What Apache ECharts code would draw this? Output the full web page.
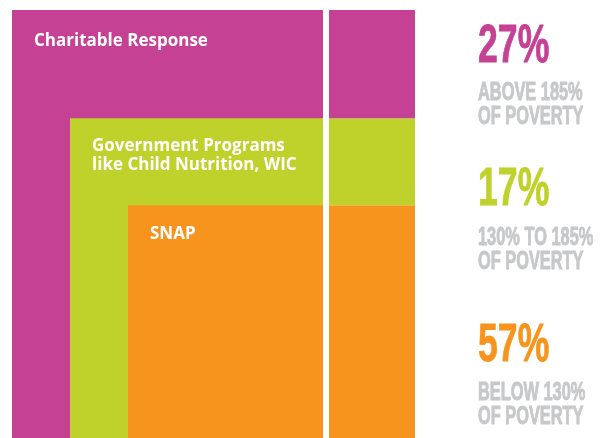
<!DOCTYPE html>
<html>
<head>
<meta charset="utf-8">
<script src="https://cdn.jsdelivr.net/npm/echarts@6/dist/echarts.min.js"></script>
<style>
  html, body { margin: 0; padding: 0; background: #fff; }
  #chart { width: 613px; height: 438px; }
</style>
</head>
<body>
<div id="chart"></div>
<script>
  // tiers, outer to inner
  var tiers = ['Charitable Response', 'Government Programs\nlike Child Nutrition, WIC', 'SNAP'];
  var tierColors = ['#c44194', '#bfd22c', '#f7941e'];
  // poverty groups, as printed on the right
  var pctLabels = ['27%', '17%', '57%'];
  var groupLabels = ['ABOVE 185%\nOF POVERTY', '130% TO 185%\nOF POVERTY', 'BELOW 130%\nOF POVERTY'];
  // band heights as drawn in the graphic (not to scale with the labels), top to bottom
  var drawnShare = [25.3, 20.3, 54.4];

  var myChart = echarts.init(document.getElementById('chart'));

  // top level of each nested block = sum of its band and the ones below
  var tierData = tiers.map(function (name, i) {
    var top = 0;
    for (var k = i; k < drawnShare.length; k++) top += drawnShare[k];
    return [i, top];
  });
  var labelDy = [22, 18, 19];

  var graphics = [];
  var pctTop = [20, 163, 319];
  var groupTop = [81, 226, 381];
  pctLabels.forEach(function (p, i) {
    graphics.push({
      type: 'text', x: 478, y: pctTop[i], scaleX: 0.66,
      style: { text: p, fill: tierColors[i], stroke: tierColors[i], lineWidth: 0.8,
        font: 'bold 54px "Liberation Sans"', verticalAlign: 'top' }
    });
    graphics.push({
      type: 'text', x: 478, y: groupTop[i], scaleX: 0.655,
      style: { text: groupLabels[i], fill: '#c7c8ca', stroke: '#c7c8ca', lineWidth: 0.9,
        font: 'bold 25px "Liberation Sans"', lineHeight: 24, verticalAlign: 'top' }
    });
  });

  var option = {
    animation: false,
    grid: [
      { left: 12, top: 10, width: 311, height: 428 },
      { left: 329, top: 10, width: 86, height: 428 }
    ],
    xAxis: [
      { type: 'value', gridIndex: 0, min: 0, max: 1, show: false },
      { type: 'category', gridIndex: 1, data: ['share'], show: false }
    ],
    yAxis: [
      { type: 'value', gridIndex: 0, min: 0, max: 100, show: false },
      { type: 'value', gridIndex: 1, min: 0, max: 100, show: false }
    ],
    graphic: graphics,
    series: [
      {
        type: 'custom',
        xAxisIndex: 0,
        yAxisIndex: 0,
        data: tierData,
        renderItem: function (params, api) {
          var i = api.value(0);
          var top = api.coord([0, api.value(1)]);
          var bottom = api.coord([0, 0]);
          var cs = params.coordSys;
          var x0 = cs.x + i * 58;
          return {
            type: 'group',
            children: [
              {
                type: 'rect',
                shape: { x: x0, y: top[1], width: cs.x + cs.width - x0, height: bottom[1] - top[1] },
                style: { fill: tierColors[i] }
              },
              {
                type: 'text',
                x: x0 + 22,
                y: top[1] + labelDy[i],
                style: { text: tiers[i], fill: '#fff', font: 'bold 17px "Open Sans"', lineHeight: 19, verticalAlign: 'top' }
              }
            ]
          };
        }
      },
      // right column, stacked bottom to top
      { type: 'bar', xAxisIndex: 1, yAxisIndex: 1, stack: 'g', barWidth: '100%', data: [drawnShare[2]], itemStyle: { color: tierColors[2] } },
      { type: 'bar', xAxisIndex: 1, yAxisIndex: 1, stack: 'g', barWidth: '100%', data: [drawnShare[1]], itemStyle: { color: tierColors[1] } },
      { type: 'bar', xAxisIndex: 1, yAxisIndex: 1, stack: 'g', barWidth: '100%', data: [drawnShare[0]], itemStyle: { color: tierColors[0] } }
    ]
  };
  myChart.setOption(option);
</script>
</body>
</html>
